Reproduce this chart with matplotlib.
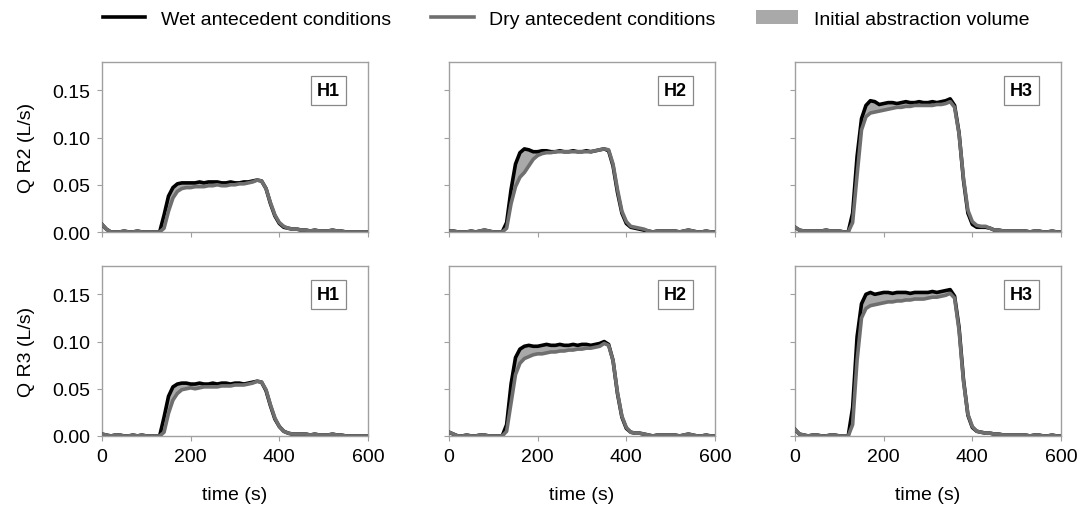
import matplotlib
matplotlib.use("Agg")
import matplotlib.pyplot as plt
import numpy as np
from matplotlib.lines import Line2D
from matplotlib.patches import Patch

plt.rcParams['font.family'] = ['Liberation Sans', 'DejaVu Sans']

time_s = list(range(0, 601, 10))

base_a = [0.008, 0.003, 0.000, 0.000, 0.000, 0.001, 0.000, 0.000, 0.001, 0.000, 0.000, 0.000, 0.000]
base_b = [0.001, 0.001, 0.000, 0.000, 0.000, 0.001, 0.000, 0.001, 0.002, 0.001, 0.000, 0.000, 0.000]
base_c = [0.005, 0.002, 0.001, 0.001, 0.001, 0.001, 0.001, 0.002, 0.001, 0.001, 0.001, 0.000, 0.000]
base_d = [0.002, 0.001, 0.000, 0.001, 0.001, 0.000, 0.000, 0.001, 0.000, 0.001, 0.000, 0.000, 0.000]
base_e = [0.004, 0.002, 0.000, 0.000, 0.001, 0.000, 0.000, 0.001, 0.001, 0.000, 0.000, 0.000, 0.000]
base_f = [0.007, 0.002, 0.001, 0.000, 0.001, 0.001, 0.000, 0.000, 0.001, 0.001, 0.000, 0.000, 0.000]

tail_a = [0.002, 0.002, 0.001, 0.002, 0.001, 0.001, 0.001, 0.002, 0.001, 0.001, 0.000, 0.000, 0.000, 0.000, 0.000]
tail_b = [0.001, 0.000, 0.001, 0.001, 0.001, 0.001, 0.001, 0.000, 0.001, 0.002, 0.001, 0.000, 0.000, 0.001, 0.000]
tail_c = [0.002, 0.002, 0.001, 0.001, 0.001, 0.001, 0.001, 0.001, 0.000, 0.001, 0.001, 0.000, 0.000, 0.001, 0.000]

# H1, R2
wet_h1_r2 = base_a + [0.000, 0.018, 0.038, 0.047, 0.051, 0.052, 0.052, 0.052, 0.052, 0.053, 0.052, 0.053, 0.053,
                      0.053, 0.052, 0.052, 0.053, 0.052, 0.052, 0.053, 0.053, 0.054, 0.055, 0.054, 0.046, 0.030,
                      0.017, 0.009, 0.005, 0.004, 0.003, 0.003] + tail_a + [0.000]
dry_h1_r2 = base_a + [0.000, 0.004, 0.022, 0.036, 0.043, 0.046, 0.047, 0.047, 0.048, 0.048, 0.048, 0.049, 0.049,
                      0.050, 0.049, 0.049, 0.050, 0.050, 0.051, 0.051, 0.052, 0.053, 0.055, 0.054, 0.046, 0.031,
                      0.018, 0.010, 0.006, 0.004, 0.003, 0.003] + tail_a + [0.000]
# H2, R2
wet_h2_r2 = base_b + [0.010, 0.045, 0.072, 0.084, 0.088, 0.087, 0.085, 0.085, 0.086, 0.086, 0.085, 0.085, 0.086,
                      0.085, 0.085, 0.086, 0.085, 0.085, 0.086, 0.085, 0.086, 0.087, 0.088, 0.086, 0.070, 0.042,
                      0.020, 0.009, 0.005, 0.004, 0.003, 0.002] + tail_b + [0.000]
dry_h2_r2 = base_b + [0.004, 0.030, 0.048, 0.058, 0.063, 0.070, 0.077, 0.081, 0.083, 0.084, 0.084, 0.085, 0.085,
                      0.085, 0.085, 0.085, 0.085, 0.085, 0.085, 0.085, 0.086, 0.087, 0.088, 0.087, 0.072, 0.045,
                      0.022, 0.011, 0.006, 0.005, 0.004, 0.003] + tail_b + [0.000]
# H3, R2
wet_h3_r2 = base_c + [0.020, 0.080, 0.120, 0.134, 0.139, 0.138, 0.135, 0.136, 0.137, 0.137, 0.136, 0.137, 0.138,
                      0.137, 0.137, 0.138, 0.137, 0.137, 0.138, 0.137, 0.138, 0.139, 0.141, 0.134, 0.105, 0.055,
                      0.020, 0.008, 0.005, 0.005, 0.005, 0.004] + tail_c + [0.000]
dry_h3_r2 = base_c + [0.010, 0.060, 0.108, 0.122, 0.126, 0.127, 0.128, 0.129, 0.130, 0.131, 0.132, 0.132, 0.133,
                      0.133, 0.134, 0.134, 0.134, 0.134, 0.134, 0.135, 0.135, 0.136, 0.138, 0.132, 0.104, 0.057,
                      0.023, 0.011, 0.007, 0.006, 0.006, 0.004] + tail_c + [0.000]
# H1, R3
wet_h1_r3 = base_d + [0.000, 0.020, 0.042, 0.052, 0.055, 0.056, 0.056, 0.055, 0.055, 0.056, 0.055, 0.055, 0.056,
                      0.055, 0.056, 0.056, 0.055, 0.056, 0.056, 0.055, 0.056, 0.057, 0.058, 0.057, 0.048, 0.032,
                      0.018, 0.010, 0.005, 0.003, 0.002, 0.002] + tail_a + [0.000]
dry_h1_r3 = base_d + [0.000, 0.004, 0.024, 0.038, 0.045, 0.049, 0.050, 0.051, 0.050, 0.051, 0.052, 0.052, 0.052,
                      0.052, 0.053, 0.053, 0.053, 0.054, 0.054, 0.054, 0.055, 0.056, 0.058, 0.057, 0.049, 0.033,
                      0.019, 0.010, 0.005, 0.003, 0.002, 0.002] + tail_a + [0.000]
# H2, R3
wet_h2_r3 = base_e + [0.012, 0.055, 0.083, 0.092, 0.095, 0.096, 0.095, 0.095, 0.096, 0.097, 0.096, 0.096, 0.097,
                      0.096, 0.096, 0.097, 0.096, 0.097, 0.097, 0.096, 0.097, 0.098, 0.100, 0.097, 0.080, 0.045,
                      0.020, 0.008, 0.004, 0.003, 0.003, 0.002] + tail_b + [0.000]
dry_h2_r3 = base_e + [0.005, 0.035, 0.065, 0.077, 0.082, 0.084, 0.086, 0.087, 0.087, 0.088, 0.089, 0.089, 0.090,
                      0.090, 0.091, 0.091, 0.092, 0.092, 0.093, 0.093, 0.094, 0.095, 0.098, 0.096, 0.080, 0.046,
                      0.021, 0.009, 0.004, 0.003, 0.003, 0.002] + tail_b + [0.000]
# H3, R3
wet_h3_r3 = base_f + [0.030, 0.105, 0.140, 0.150, 0.152, 0.150, 0.151, 0.152, 0.152, 0.151, 0.152, 0.152, 0.152,
                      0.151, 0.152, 0.152, 0.152, 0.152, 0.153, 0.152, 0.153, 0.154, 0.155, 0.148, 0.115, 0.060,
                      0.022, 0.009, 0.005, 0.004, 0.003, 0.003] + tail_c + [0.000]
dry_h3_r3 = base_f + [0.012, 0.080, 0.125, 0.135, 0.138, 0.139, 0.140, 0.141, 0.142, 0.142, 0.143, 0.143, 0.144,
                      0.144, 0.145, 0.145, 0.145, 0.146, 0.147, 0.147, 0.148, 0.149, 0.151, 0.146, 0.112, 0.058,
                      0.023, 0.010, 0.005, 0.004, 0.003, 0.003] + tail_c + [0.000]

panel_labels = ["H1", "H2", "H3"]
row_labels = ["Q R2 (L/s)", "Q R3 (L/s)"]
wet_series = [[wet_h1_r2, wet_h2_r2, wet_h3_r2], [wet_h1_r3, wet_h2_r3, wet_h3_r3]]
dry_series = [[dry_h1_r2, dry_h2_r2, dry_h3_r2], [dry_h1_r3, dry_h2_r3, dry_h3_r3]]
y_ticks = [0.00, 0.05, 0.10, 0.15]
y_tick_labels = ["0.00", "0.05", "0.10", "0.15"]
x_ticks = [0, 200, 400, 600]
legend_labels = ["Wet antecedent conditions", "Dry antecedent conditions", "Initial abstraction volume"]

WET_C = "#000000"
DRY_C = "#6f6f6f"
FILL_C = "#a9a9a9"
SPINE_C = "#a0a0a0"
FS = 14

fig = plt.figure(figsize=(10.83, 5.06), dpi=100)
W, H = 1083, 506
col_left = [102, 449, 795]
row_top = [63, 267]
row_bot = [233, 437]
ax_w = 266

for r in range(2):
    for c in range(3):
        ax = fig.add_axes([col_left[c] / W, 1 - row_bot[r] / H, ax_w / W, (row_bot[r] - row_top[r]) / H])
        t = np.array(time_s)
        wet = np.array(wet_series[r][c])
        dry = np.array(dry_series[r][c])
        ax.fill_between(t, dry, wet, where=wet >= dry, interpolate=True, color=FILL_C, lw=0)
        ax.plot(t, wet, color=WET_C, lw=2.6, solid_joinstyle='round', zorder=3)
        ax.plot(t, dry, color=DRY_C, lw=2.6, solid_joinstyle='round', zorder=4)
        ax.set_xlim(0, 600)
        ax.set_ylim(0, 0.18)
        ax.set_xticks(x_ticks)
        ax.set_yticks(y_ticks)
        if c == 0:
            ax.set_yticklabels(y_tick_labels)
            ax.set_ylabel(row_labels[r], fontsize=FS, labelpad=12)
        else:
            ax.set_yticklabels([])
        if r == 1:
            ax.set_xticklabels([str(v) for v in x_ticks])
            ax.set_xlabel("time (s)", fontsize=FS, labelpad=15)
        else:
            ax.set_xticklabels([])
        for s in ax.spines.values():
            s.set_color(SPINE_C)
            s.set_linewidth(1.0)
        ax.tick_params(axis='both', direction='out', length=3.6, width=0.8, color=SPINE_C,
                       labelsize=FS, labelcolor='black', pad=5)
        ax.text(0.85, 0.83, panel_labels[c], transform=ax.transAxes, ha='center', va='center',
                fontsize=13, fontweight='bold',
                bbox=dict(boxstyle='square,pad=0.33', fc='white', ec='#888888', lw=0.9), zorder=6)

handles = [Line2D([], [], color=WET_C, lw=2.6),
           Line2D([], [], color=DRY_C, lw=2.6),
           Patch(facecolor=FILL_C, edgecolor='none')]
fig.legend(handles, legend_labels, loc='center', bbox_to_anchor=(0.5226, 1 - 20 / H), ncol=3,
           frameon=False, fontsize=FS, handlelength=2.2, handleheight=0.72, columnspacing=2.05,
           handletextpad=0.8)

fig.savefig("out.png", dpi=100)
